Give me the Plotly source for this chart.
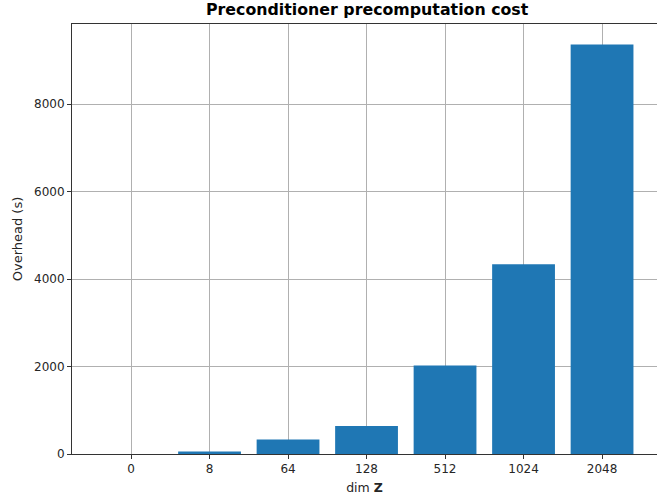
import plotly.graph_objects as go

categories = ["0", "8", "64", "128", "512", "1024", "2048"]
overhead = [0, 60, 330, 638, 2025, 4340, 9368]
y_ticks = [0, 2000, 4000, 6000, 8000]

fig = go.Figure()
fig.add_trace(go.Bar(
    x=list(range(len(categories))), y=overhead,
    width=0.8, marker=dict(color="#1f77b4", line=dict(width=0)),
))

axis_common = dict(
    showline=True, linecolor="#333333", linewidth=1,
    ticks="outside", ticklen=4, tickcolor="#333333", tickwidth=1,
    showgrid=True, gridcolor="#b0b0b0", gridwidth=1,
    zeroline=False, layer="above traces",
    tickfont=dict(family="DejaVu Sans", size=12, color="#262626"),
)
fig.update_xaxes(
    **axis_common, mirror=True, range=[-0.752, 6.70],
    tickvals=list(range(len(categories))), ticktext=categories,
    title=dict(text="dim <b>Z</b>", font=dict(family="DejaVu Sans", size=12.5, color="#262626"), standoff=7),
)
fig.update_yaxes(
    **axis_common, mirror=False, range=[0, 9836], tickvals=y_ticks,
    title=dict(text="Overhead (s)", font=dict(family="DejaVu Sans", size=13, color="#262626"), standoff=8),
)
fig.update_layout(
    width=658, height=502,
    margin=dict(l=72, r=1, t=24, b=48),
    paper_bgcolor="white", plot_bgcolor="white",
    showlegend=False,
    title=dict(text="<b>Preconditioner precomputation cost</b>", x=0.558, xanchor="center",
               y=0.993, yanchor="top",
               font=dict(family="DejaVu Sans", size=15.8, color="black")),
)
fig.write_html(
    "out.html",
    config={"displayModeBar": False},
    post_script="document.body.style.margin='0';document.body.style.overflow='hidden';",
)
